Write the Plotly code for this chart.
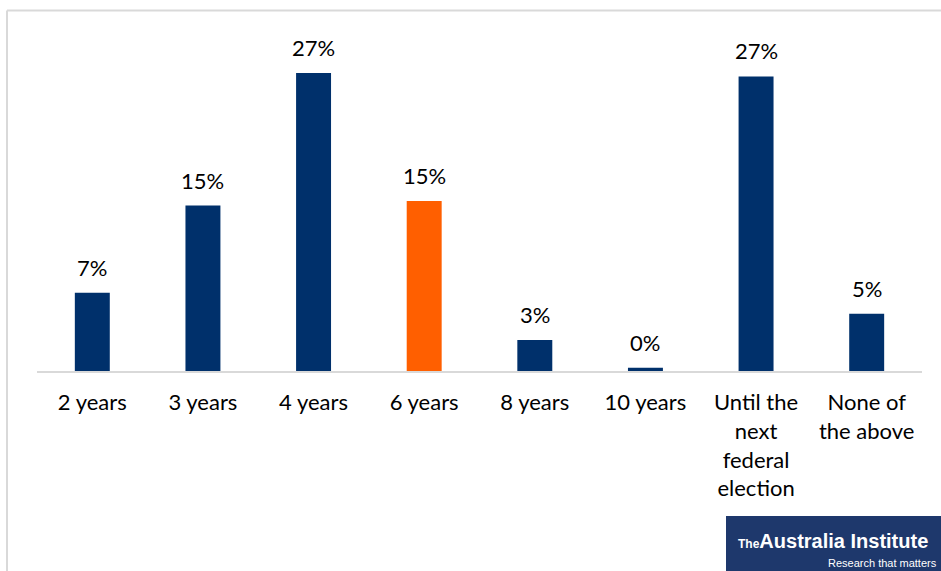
import plotly.graph_objects as go

# Survey responses: preferred term length
categories = ["2 years", "3 years", "4 years", "6 years", "8 years", "10 years",
              "Until the next federal election", "None of the above"]
tick_text = ["2 years", "3 years", "4 years", "6 years", "8 years", "10 years",
             "Until the<br>next<br>federal<br>election", "None of<br>the above"]
shares = [7.1, 15.0, 27.0, 15.4, 2.8, 0.3, 26.7, 5.2]
highlight = "6 years"

NAVY = "#00306B"
ORANGE = "#FF5F00"
GRID = "#D9D9D9"
FONT = "Lato, 'Open Sans', sans-serif"
LOGO_FONT = "'Liberation Sans', Arial, sans-serif"

W, H = 941, 571
M_L, M_R, M_T, M_B = 37, 19, 40, 200
plot_w = W - M_L - M_R
plot_h = H - M_T - M_B


def px_x(x):
    return (x - M_L) / plot_w


def px_y(y):
    return (H - M_B - y) / plot_h


colors = [ORANGE if c == highlight else NAVY for c in categories]

fig = go.Figure(go.Bar(
    x=categories, y=shares, marker=dict(color=colors, line=dict(width=0)),
    hoverinfo="skip",
))

# Percentage labels above each bar
for c, v in zip(categories, shares):
    fig.add_annotation(x=c, y=v, text=f"{v:.0f}%", showarrow=False,
                       yanchor="bottom", yshift=10,
                       font=dict(family=FONT, size=22, color="#000000"))

shapes = [
    # frame (top and left edges)
    dict(type="line", xref="paper", yref="paper", x0=px_x(7), x1=px_x(W + 5),
         y0=px_y(10.5), y1=px_y(10.5), line=dict(color=GRID, width=2)),
    dict(type="line", xref="paper", yref="paper", x0=px_x(7), x1=px_x(7),
         y0=px_y(10.5), y1=px_y(H + 5), line=dict(color=GRID, width=2)),
    # logo block
    dict(type="rect", xref="paper", yref="paper", x0=px_x(726), x1=px_x(W + 5),
         y0=px_y(516), y1=px_y(H + 5), fillcolor="#1E386C", line=dict(width=0)),
]

fig.add_annotation(xref="paper", yref="paper", x=px_x(736), y=px_y(541),
                   xanchor="left", yanchor="middle", showarrow=False,
                   text="<span style='font-size:12px'>The</span>Australia Institute",
                   font=dict(family=LOGO_FONT, size=20, color="#FFFFFF", weight="bold"))
fig.add_annotation(xref="paper", yref="paper", x=px_x(939), y=px_y(563),
                   xanchor="right", yanchor="middle", showarrow=False,
                   text="Research that matters",
                   font=dict(family=LOGO_FONT, size=11, color="#FFFFFF"))

fig.update_layout(
    width=W, height=H,
    margin=dict(l=M_L, r=M_R, t=M_T, b=M_B, autoexpand=False),
    paper_bgcolor="#FFFFFF", plot_bgcolor="#FFFFFF",
    bargap=0.684, showlegend=False,
    shapes=shapes,
    xaxis=dict(tickmode="array", tickvals=categories, ticktext=tick_text,
               showline=True, linecolor=GRID, linewidth=2,
               ticks="outside", ticklen=11, tickcolor="rgba(0,0,0,0)",
               tickfont=dict(family=FONT, size=22, color="#000000"),
               showgrid=False, zeroline=False, fixedrange=True),
    yaxis=dict(range=[0, 30], visible=False, showgrid=False, zeroline=False,
               fixedrange=True),
)

fig.write_html("out.html")
